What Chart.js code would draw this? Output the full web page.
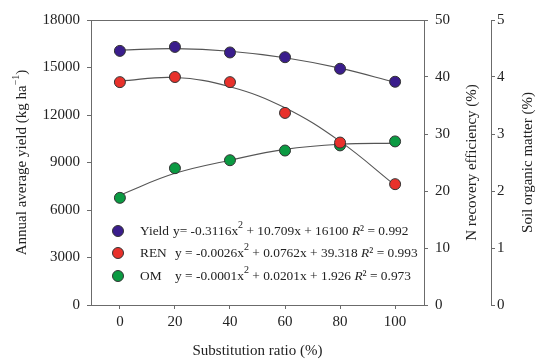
<!DOCTYPE html>
<html>
<head>
<meta charset="utf-8">
<script src="https://cdn.jsdelivr.net/npm/chart.js@4.4.0/dist/chart.umd.min.js"></script>
<style>
html, body { margin: 0; padding: 0; background: #fff; }
#wrap { width: 537px; height: 361px; }
</style>
</head>
<body>
<div id="wrap"><canvas id="chart"></canvas></div>
<script>
// values
const ratios = [0, 20, 40, 60, 80, 100];
const yieldPts = [16050, 16300, 15950, 15650, 14920, 14100];
const renPts = [39.1, 40.0, 39.1, 33.7, 28.5, 21.2];
const omPts = [1.88, 2.40, 2.54, 2.71, 2.80, 2.87];
// fitted curves, as drawn in the figure
const yieldFit = [16100, 16190, 16030, 15620, 14960, 14060];
const renFit = [39.3, 39.9, 38.3, 34.6, 28.7, 21.0];
const omFit = [1.93, 2.31, 2.54, 2.73, 2.82, 2.84];

const xTicks = [0, 20, 40, 60, 80, 100];
const yieldTicks = [0, 3000, 6000, 9000, 12000, 15000, 18000];
const renTicks = [0, 10, 20, 30, 40, 50];
const omTicks = [0, 1, 2, 3, 4, 5];

const seriesNames = ['Yield', 'REN', 'OM'];
const seriesColors = ['#3a1d8c', '#e8312b', '#0b9a42'];
const equations = [
    ['y= -0.3116x', '2', ' + 10.709x + 16100 ', 'R', '² = 0.992'],
    ['y = -0.0026x', '2', ' + 0.0762x + 39.318 ', 'R', '² = 0.993'],
    ['y = -0.0001x', '2', ' + 0.0201x + 1.926 ', 'R', '² = 0.973']
];

const serif = 'Liberation Serif';
const axisColor = '#6b6b6b';
const textColor = '#222';

function toPoints(xs, ys) {
    return xs.map((x, i) => ({ x: x, y: ys[i] }));
}

function fixedTicks(list) {
    return function(scale) {
        scale.ticks = list.map(v => ({ value: v }));
    };
}

// draws text pieces, some raised as superscripts
function drawPieces(ctx, pieces, x, y) {
    let cx = x;
    pieces.forEach(p => {
        ctx.font = p.font;
        ctx.fillText(p.t, cx, y + (p.dy || 0));
        cx += ctx.measureText(p.t).width;
    });
    return cx - x;
}

function measurePieces(ctx, pieces) {
    let w = 0;
    pieces.forEach(p => {
        ctx.font = p.font;
        w += ctx.measureText(p.t).width;
    });
    return w;
}

const extrasPlugin = {
    id: 'extras',
    afterDraw(chart) {
        const ctx = chart.ctx;
        const area = chart.chartArea;
        ctx.save();

        // top frame line
        ctx.strokeStyle = axisColor;
        ctx.lineWidth = 1;
        ctx.beginPath();
        ctx.moveTo(area.left, area.top + 0.5);
        ctx.lineTo(area.right, area.top + 0.5);
        ctx.stroke();

        ctx.fillStyle = textColor;
        ctx.textBaseline = 'middle';
        ctx.textAlign = 'left';

        // axis titles, all reading bottom to top
        const f15 = '15px "' + serif + '"';
        const f10 = '10px "' + serif + '"';
        const titles = [
            { x: 22, pieces: [{ t: 'Annual average yield (kg ha', font: f15 }, { t: '\u22121', font: f10, dy: -6 }, { t: ')', font: f15 }] },
            { x: 472, pieces: [{ t: 'N recovery efficiency (%)', font: f15 }] },
            { x: 528, pieces: [{ t: 'Soil organic matter (%)', font: f15 }] }
        ];
        const midY = (area.top + area.bottom) / 2;
        titles.forEach(tt => {
            const w = measurePieces(ctx, tt.pieces);
            ctx.save();
            ctx.translate(tt.x, midY);
            ctx.rotate(-Math.PI / 2);
            drawPieces(ctx, tt.pieces, -w / 2, 0);
            ctx.restore();
        });

        // x title
        ctx.font = f15;
        ctx.textAlign = 'center';
        ctx.fillText('Substitution ratio (%)', (area.left + area.right) / 2, 351);

        // legend with equations
        ctx.textAlign = 'left';
        const f13 = '13.4px "' + serif + '"';
        const f13i = 'italic 13.4px "' + serif + '"';
        const f10s = '10px "' + serif + '"';
        const rowY = [231, 253, 276];
        seriesNames.forEach((name, i) => {
            ctx.beginPath();
            ctx.arc(118, rowY[i], 5.5, 0, Math.PI * 2);
            ctx.fillStyle = seriesColors[i];
            ctx.fill();
            ctx.strokeStyle = '#333';
            ctx.lineWidth = 1;
            ctx.stroke();

            ctx.fillStyle = textColor;
            ctx.font = f13;
            ctx.fillText(name, 140, rowY[i]);
            const e = equations[i];
            drawPieces(ctx, [
                { t: e[0], font: f13 },
                { t: e[1], font: f10s, dy: -6 },
                { t: e[2], font: f13 },
                { t: e[3], font: f13i },
                { t: e[4], font: f13 }
            ], i === 0 ? 173 : 175, rowY[i]);
        });

        ctx.restore();
    }
};

function pointSet(label, data, color, axis) {
    return {
        type: 'scatter',
        label: label,
        data: data,
        yAxisID: axis,
        backgroundColor: color,
        borderColor: '#333',
        borderWidth: 1,
        pointRadius: 5.5,
        pointHoverRadius: 5.5,
        order: 0
    };
}

function fitSet(label, data, axis) {
    return {
        type: 'line',
        label: label,
        data: data,
        yAxisID: axis,
        borderColor: '#555',
        borderWidth: 1.1,
        pointRadius: 0,
        fill: false,
        tension: 0.4,
        order: 1
    };
}

const tickFont = { family: serif, size: 15 };
const plainLabel = v => String(v);

new Chart(document.getElementById('chart').getContext('2d'), {
    data: {
        datasets: [
            fitSet('Yield fit', toPoints(ratios, yieldFit), 'y'),
            fitSet('REN fit', toPoints(ratios, renFit), 'y1'),
            fitSet('OM fit', toPoints(ratios, omFit), 'y2'),
            pointSet('Yield', toPoints(ratios, yieldPts), seriesColors[0], 'y'),
            pointSet('REN', toPoints(ratios, renPts), seriesColors[1], 'y1'),
            pointSet('OM', toPoints(ratios, omPts), seriesColors[2], 'y2')
        ]
    },
    options: {
        responsive: true,
        maintainAspectRatio: false,
        animation: false,
        layout: { padding: { top: 20, left: 0, right: 0, bottom: 0 } },
        scales: {
            x: {
                type: 'linear',
                min: -10.5,
                max: 110.5,
                afterBuildTicks: fixedTicks(xTicks),
                afterFit: s => { s.height = 56; },
                grid: { drawOnChartArea: false, tickLength: 4, color: axisColor },
                border: { color: axisColor },
                ticks: { font: tickFont, color: textColor, padding: 4, maxRotation: 0, callback: plainLabel }
            },
            y: {
                position: 'left',
                min: 0,
                max: 18000,
                afterBuildTicks: fixedTicks(yieldTicks),
                afterFit: s => { s.width = 91; },
                grid: { drawOnChartArea: false, tickLength: 4, color: axisColor },
                border: { color: axisColor },
                ticks: { font: tickFont, color: textColor, padding: 7, callback: plainLabel }
            },
            y1: {
                position: 'right',
                min: 0,
                max: 50,
                afterBuildTicks: fixedTicks(renTicks),
                afterFit: s => { s.width = 67; },
                grid: { drawOnChartArea: false, tickLength: 4, color: axisColor },
                border: { color: axisColor },
                ticks: { font: tickFont, color: textColor, padding: 7, callback: plainLabel }
            },
            y2: {
                position: 'right',
                min: 0,
                max: 5,
                afterBuildTicks: fixedTicks(omTicks),
                afterFit: s => { s.width = 46; },
                grid: { drawOnChartArea: false, tickLength: 4, color: axisColor },
                border: { color: axisColor },
                ticks: { font: tickFont, color: textColor, padding: 2, callback: plainLabel }
            }
        },
        plugins: {
            legend: { display: false },
            tooltip: { enabled: false }
        }
    },
    plugins: [extrasPlugin]
});
</script>
</body>
</html>
